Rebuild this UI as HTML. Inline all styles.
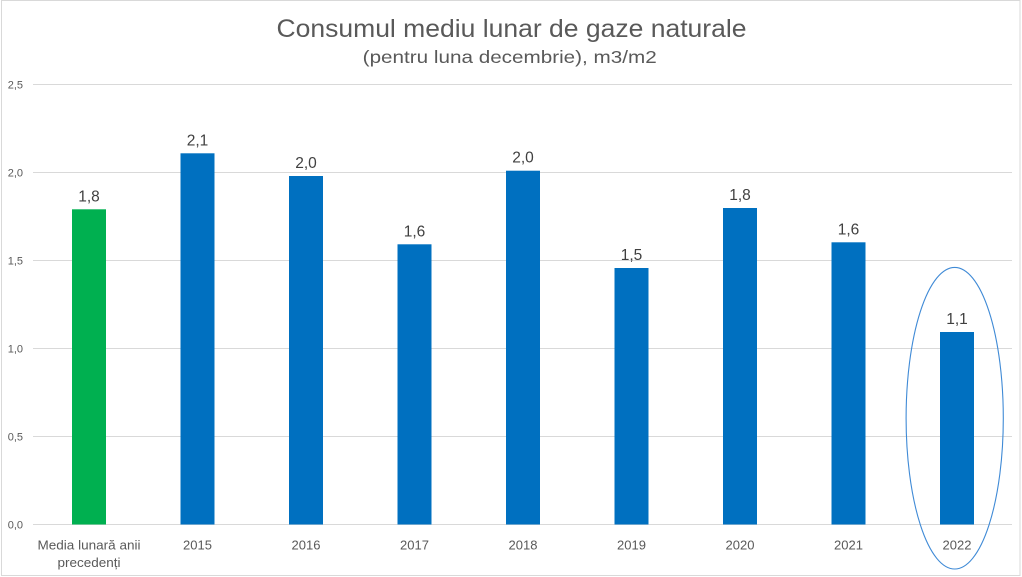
<!DOCTYPE html>
<html><head><meta charset="utf-8"><style>
html,body{margin:0;padding:0;background:#fff;}
svg{display:block;}
text{font-family:"Liberation Sans",sans-serif;}
</style></head><body>
<svg width="1022" height="577" viewBox="0 0 1022 577" xmlns="http://www.w3.org/2000/svg">
<rect x="0" y="0" width="1022" height="577" fill="#fff"/>
<rect x="1.5" y="0.5" width="1018.5" height="575" fill="none" stroke="#d9d9d9" stroke-width="1"/>
<text x="511.5" y="37" font-size="25" fill="#595959" text-anchor="middle" textLength="470" lengthAdjust="spacingAndGlyphs">Consumul mediu lunar de gaze naturale</text>
<text x="509.7" y="63" font-size="17.5" fill="#595959" text-anchor="middle" textLength="294" lengthAdjust="spacingAndGlyphs">(pentru luna decembrie), m3/m2</text>
<g stroke="#d9d9d9" stroke-width="1">
<line x1="33" y1="84.5" x2="1012" y2="84.5"/>
<line x1="33" y1="172.5" x2="1012" y2="172.5"/>
<line x1="33" y1="260.5" x2="1012" y2="260.5"/>
<line x1="33" y1="348.5" x2="1012" y2="348.5"/>
<line x1="33" y1="436.5" x2="1012" y2="436.5"/>
<line x1="33" y1="524.5" x2="1012" y2="524.5"/>
</g>
<g font-size="11" fill="#595959" text-anchor="end">
<text x="23" y="88.3">2,5</text>
<text x="23" y="176.3">2,0</text>
<text x="23" y="264.3">1,5</text>
<text x="23" y="352.3">1,0</text>
<text x="23" y="440.3">0,5</text>
<text x="23" y="528.3">0,0</text>
</g>
<g>
<rect x="72" y="209.3" width="34" height="315.2" fill="#00B050"/>
<rect x="180.5" y="153.3" width="34" height="371.2" fill="#0070C0"/>
<rect x="289" y="176" width="34" height="348.5" fill="#0070C0"/>
<rect x="397.5" y="244.3" width="34" height="280.2" fill="#0070C0"/>
<rect x="506" y="170.7" width="34" height="353.8" fill="#0070C0"/>
<rect x="614.5" y="268" width="34" height="256.5" fill="#0070C0"/>
<rect x="723" y="208" width="34" height="316.5" fill="#0070C0"/>
<rect x="831.5" y="242.3" width="34" height="282.2" fill="#0070C0"/>
<rect x="940" y="332" width="34" height="192.5" fill="#0070C0"/>
</g>
<g font-size="15.5" fill="#404040" text-anchor="middle">
<text x="89" y="201.5">1,8</text>
<text x="197.5" y="145.5">2,1</text>
<text x="306" y="168">2,0</text>
<text x="414.5" y="236.5">1,6</text>
<text x="523" y="162.7">2,0</text>
<text x="631.5" y="260">1,5</text>
<text x="740" y="200">1,8</text>
<text x="848.5" y="234.3">1,6</text>
<text x="957" y="324">1,1</text>
</g>
<g font-size="13" fill="#595959" text-anchor="middle">
<text x="89" y="549.3" textLength="103" lengthAdjust="spacingAndGlyphs">Media lunară anii</text>
<text x="89" y="567" textLength="63" lengthAdjust="spacingAndGlyphs">precedenți</text>
<text x="197.5" y="549.3">2015</text>
<text x="306" y="549.3">2016</text>
<text x="414.5" y="549.3">2017</text>
<text x="523" y="549.3">2018</text>
<text x="631.5" y="549.3">2019</text>
<text x="740" y="549.3">2020</text>
<text x="848.5" y="549.3">2021</text>
<text x="957" y="549.3">2022</text>
</g>
<ellipse cx="954.7" cy="418.2" rx="48.6" ry="150.8" fill="none" stroke="#3f8ad6" stroke-width="1.1"/>
</svg>
</body></html>
